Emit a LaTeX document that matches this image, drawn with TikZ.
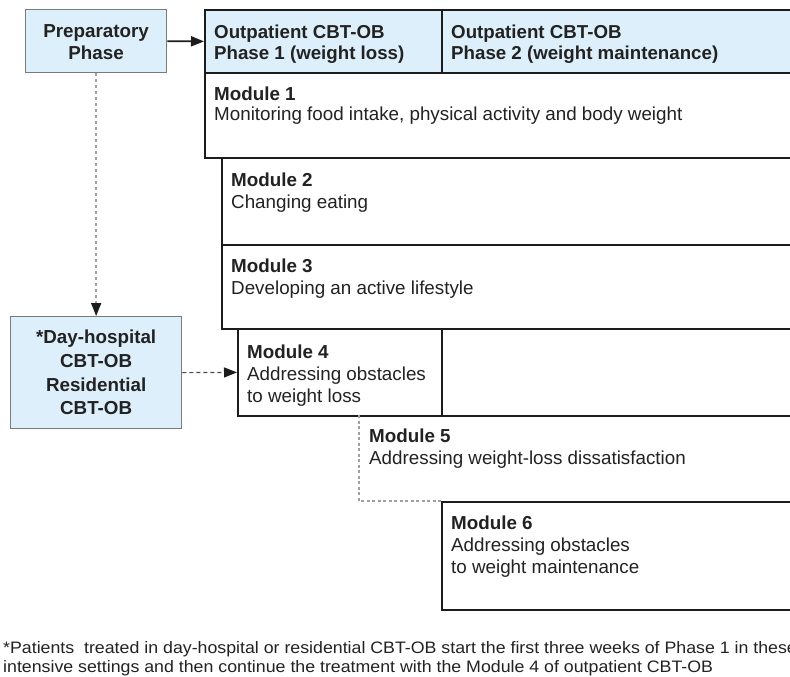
\documentclass[tikz,border=0pt]{standalone}
\usepackage{fontspec}
\setmainfont{Liberation Sans}
\newfontfamily\notefont[FakeStretch=1.07]{Liberation Sans}
\usetikzlibrary{arrows.meta}
\definecolor{phasefill}{HTML}{DDEFFA}
\definecolor{boxline}{HTML}{1C1C1C}
\definecolor{softline}{HTML}{7A7A7A}
\definecolor{inkgray}{HTML}{222222}
\definecolor{dotgray}{HTML}{A0A0A0}
\begin{document}
\begin{tikzpicture}[x=1pt,y=-1pt,
  modbox/.style={draw=boxline, line width=1.8pt, fill=white, inner sep=0pt,
    anchor=north west},
  phasebox/.style={modbox, fill=phasefill},
  bluebox/.style={draw=softline, line width=1.3pt, fill=phasefill, inner sep=0pt,
    anchor=north west},
  txt/.style={anchor=north west, align=left, inner sep=0pt, text=inkgray,
    font=\fontsize{18.8}{22}\selectfont},
  ctxt/.style={txt, anchor=north, align=center, font=\bfseries\fontsize{18.8}{22}\selectfont},
  foot/.style={anchor=north west, align=left, inner sep=0pt, text=inkgray,
    font=\notefont\fontsize{16.6}{18.4}\selectfont},
  tip/.style={-{Triangle[length=13pt,width=10pt,color=boxline]}}
]
\useasboundingbox (0,0) rectangle (790,677);
\clip (0,0) rectangle (790,677);

% header row of the outpatient programme
\node[phasebox, minimum width=237pt, minimum height=63pt] (hdrA) at (204,9) {};
\node[phasebox, minimum width=360pt, minimum height=63pt] (hdrB) at (441,9) {};
\node[txt, font=\bfseries\fontsize{18.7}{21.7}\selectfont] (hdrAt) at (214,24.5)
  {Outpatient CBT-OB\\Phase 1 (weight loss)};
\node[txt, font=\bfseries\fontsize{18.7}{21.7}\selectfont] (hdrBt) at (451,24.5)
  {Outpatient CBT-OB\\Phase 2 (weight maintenance)};

% staircase of modules
\node[modbox, minimum width=597pt, minimum height=85pt] (m1) at (204,72) {};
\node[modbox, minimum width=580pt, minimum height=87pt] (m2) at (221,157) {};
\node[modbox, minimum width=580pt, minimum height=84pt] (m3) at (221,244) {};
\node[modbox, minimum width=204pt, minimum height=87pt] (m4) at (237,328) {};
\node[modbox, minimum width=360pt, minimum height=87pt] (p2cell) at (441,328) {};
\node[modbox, minimum width=360pt, minimum height=108pt] (m6) at (441,501) {};

% module 5 is only outlined on its open sides
\coordinate (m5a) at (359,415);
\coordinate (m5b) at (359,501);
\coordinate (m5c) at (441,501);
\draw[dotgray, line width=1.3pt, dash pattern=on 3pt off 2.5pt] (m5a) -- (m5b) -- (m5c);

\node[txt, font=\fontsize{18.8}{20.3}\selectfont] (m1t) at (214,86.5)
  {\textbf{Module 1}\\Monitoring food intake, physical activity and body weight};
\node[txt] (m2t) at (231,172.5)
  {\textbf{Module 2}\\Changing eating};
\node[txt] (m3t) at (231,258.5)
  {\textbf{Module 3}\\Developing an active lifestyle};
\node[txt] (m4t) at (247,344.5)
  {\textbf{Module 4}\\Addressing obstacles\\to weight loss};
\node[txt] (m5t) at (369,429)
  {\textbf{Module 5}\\Addressing weight-loss dissatisfaction};
\node[txt] (m6t) at (451,515.5)
  {\textbf{Module 6}\\Addressing obstacles\\to weight maintenance};

% entry phases
\node[bluebox, minimum width=141pt, minimum height=63pt] (prep) at (25,9) {};
\node[ctxt, font=\bfseries\fontsize{18.8}{22.3}\selectfont] (prept) at (prep.north |- 0,24.5)
  {Preparatory\\Phase};
\node[bluebox, minimum width=171pt, minimum height=112pt] (dayh) at (10,316) {};
\node[ctxt, font=\bfseries\fontsize{18.8}{23.6}\selectfont] (dayht) at (dayh.north |- 0,330)
  {*Day-hospital\\CBT-OB\\Residential\\CBT-OB};

% connectors
\draw[tip, boxline, line width=1.8pt] (prep.east) -- (hdrA.west);
\draw[dotgray, line width=1.5pt, dash pattern=on 3pt off 3pt, tip] (prep.south) -- (dayh.north);
\draw[softline!60!black, line width=1.2pt, dash pattern=on 4pt off 3pt, tip] (dayh.east) -- (m4.west);

% footnote
\node[foot] (note) at (3,641.5)
  {*Patients~ treated in day-hospital or residential CBT-OB start the first three weeks of Phase 1 in these\\
   intensive settings and then continue the treatment with the Module 4 of outpatient CBT-OB};
\end{tikzpicture}
\end{document}
